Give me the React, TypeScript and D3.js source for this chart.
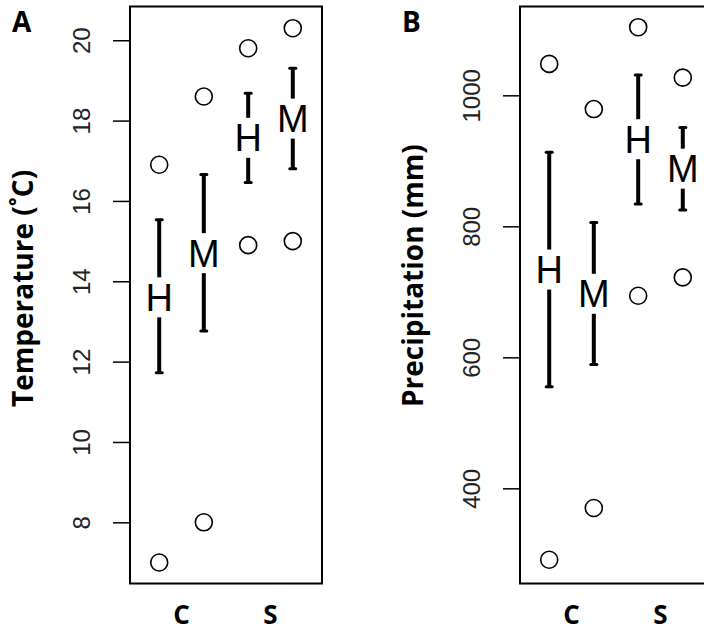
import React, { useEffect, useRef } from "react";
import * as d3 from "d3";

// site groups and lines
const regions = ["C", "S"];
const groups = ["H", "M"];

// temperature, order: C-H, C-M, S-H, S-M
const tempMean = [13.6, 14.7, 17.57, 18.05];
const tempLo = [11.72, 12.76, 16.46, 16.8];
const tempHi = [15.53, 16.66, 18.68, 19.3];
const tempMin = [7.0, 8.0, 14.9, 15.0];
const tempMax = [16.9, 18.6, 19.8, 20.3];
const tempTicks = [8, 10, 12, 14, 16, 18, 20];

// precipitation, same order
const precMean = [734, 697, 933, 888];
const precLo = [555, 589, 834, 825];
const precHi = [913, 806, 1031, 951];
const precMin = [291, 370, 694, 722];
const precMax = [1048, 979, 1104, 1027];
const precTicks = [400, 600, 800, 1000];

const boxLeft = 130;
const boxRight = 322;
const boxTop = 6.5;
const boxBottom = 583.5;

type PanelProps = {
  dx: number;
  tag: string;
  title: string;
  domain: [number, number];
  ticks: number[];
  mean: number[];
  lo: number[];
  hi: number[];
  mins: number[];
  maxs: number[];
};

const Panel = ({ dx, tag, title, domain, ticks, mean, lo, hi, mins, maxs }: PanelProps) => {
  const axisRef = useRef<SVGGElement>(null);

  const x = d3.scalePoint().domain(regions).range([boxLeft, boxRight]).padding(0.579);
  const xg = d3.scalePoint().domain(groups).range([-22.3, 22.3]);
  const y = d3.scaleLinear().domain(domain).range([boxBottom, boxTop]);

  const items = regions.flatMap((r, i) =>
    groups.map((g, j) => ({ r, g, k: i * 2 + j }))
  );

  useEffect(() => {
    const g = d3.select(axisRef.current);
    g.call(
      d3.axisLeft(y).tickValues(ticks).tickFormat(d3.format("d")).tickSize(17).tickSizeOuter(0) as any
    );
    g.select(".domain").remove();
    g.attr("font-size", 24).attr("font-family", "'Liberation Sans', Arial, sans-serif");
    g.selectAll(".tick line").attr("stroke-width", 1.5).attr("stroke", "#000");
    g.selectAll(".tick text")
      .attr("x", 0)
      .attr("dy", 0)
      .attr("fill", "#222")
      .attr("text-anchor", "middle")
      .attr("transform", "translate(-40,0) rotate(-90)");
  }, [ticks]);

  return (
    <g transform={`translate(${dx},0)`}>
      <text x={12} y={32} fontFamily="'Open Sans', sans-serif" fontWeight="bold" fontSize={28}>
        {tag}
      </text>
      <text
        transform={`translate(33,407) rotate(-90)`}
        fontFamily="'Open Sans', sans-serif"
        fontWeight="bold"
        fontSize={28}
      >
        {title}
      </text>
      <g ref={axisRef} transform={`translate(${boxLeft},0)`} />
      <rect
        x={boxLeft}
        y={boxTop}
        width={boxRight - boxLeft}
        height={boxBottom - boxTop}
        fill="none"
        stroke="#000"
        strokeWidth={2}
      />
      {regions.map((r) => (
        <text
          key={r}
          x={x(r)}
          y={624}
          textAnchor="middle"
          fontFamily="'Open Sans', sans-serif"
          fontWeight="bold"
          fontSize={26}
        >
          {r}
        </text>
      ))}
      {items.map(({ r, g, k }) => {
        const cx = (x(r) as number) + (xg(g) as number);
        const ym = y(mean[k]);
        return (
          <g key={r + g}>
            <line x1={cx} x2={cx} y1={y(hi[k])} y2={ym - 20} stroke="#000" strokeWidth={4} />
            <line x1={cx} x2={cx} y1={ym + 20} y2={y(lo[k])} stroke="#000" strokeWidth={4} />
            <line x1={cx - 3} x2={cx + 3} y1={y(hi[k])} y2={y(hi[k])} stroke="#000" strokeWidth={3} strokeLinecap="round" />
            <line x1={cx - 3} x2={cx + 3} y1={y(lo[k])} y2={y(lo[k])} stroke="#000" strokeWidth={3} strokeLinecap="round" />
            <text
              x={cx}
              y={ym + 13.6}
              textAnchor="middle"
              fontFamily="'Liberation Sans', Arial, sans-serif"
              fontSize={38}
            >
              {g}
            </text>
            <circle cx={cx} cy={y(mins[k])} r={8.5} fill="none" stroke="#000" strokeWidth={1.6} />
            <circle cx={cx} cy={y(maxs[k])} r={8.5} fill="none" stroke="#000" strokeWidth={1.6} />
          </g>
        );
      })}
    </g>
  );
};

export default function App() {
  return (
    <svg
      width={704}
      height={631}
      style={{ position: "absolute", left: 0, top: 0, background: "#fff" }}
    >
      <Panel
        dx={0}
        tag="A"
        title="Temperature (˚C)"
        domain={[6.477, 20.84]}
        ticks={tempTicks}
        mean={tempMean}
        lo={tempLo}
        hi={tempHi}
        mins={tempMin}
        maxs={tempMax}
      />
      <Panel
        dx={390}
        tag="B"
        title="Precipitation (mm)"
        domain={[254.7, 1135.6]}
        ticks={precTicks}
        mean={precMean}
        lo={precLo}
        hi={precHi}
        mins={precMin}
        maxs={precMax}
      />
    </svg>
  );
}
